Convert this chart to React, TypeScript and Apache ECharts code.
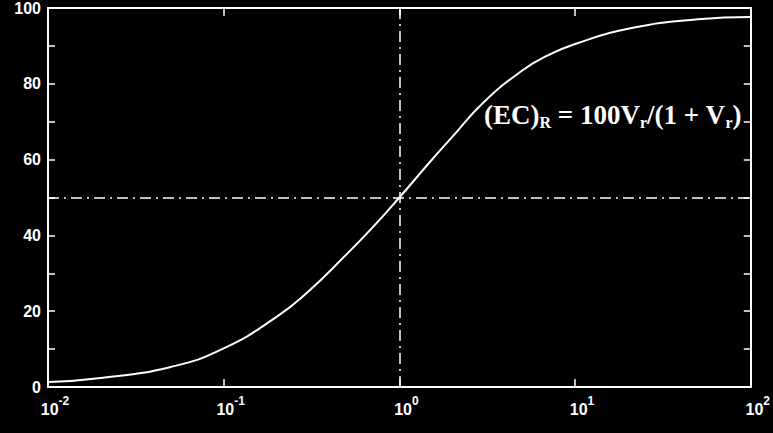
import React, { useEffect, useRef } from "react";
import * as echarts from "echarts";

// Relative volume V_r (log scale) and the curve values (EC)_R
const vrValues = [0.01, 0.02, 0.05, 0.1, 0.2, 0.3, 0.5, 0.7, 1, 1.5, 2, 3, 5, 7, 10, 20, 50, 100];
const ecValues = [1.3, 2.4, 5.3, 10.2, 18.5, 25, 35, 42, 50, 59.5, 66, 75, 83.5, 87.5, 90.5, 94.5, 97, 97.6];
const yTickLabels = [0, 20, 40, 60, 80, 100];
const refVr = 1;
const refEc = 50;

export default function App() {
  const ref = useRef<HTMLDivElement>(null);
  useEffect(() => {
    const chart = echarts.init(ref.current!, null, { renderer: "svg" });
    const white = "#ffffff";
    const frameLine = { show: true, onZero: false, lineStyle: { color: white, width: 2 } };
    const xLabelRich = {
      b: { color: white, fontSize: 16, fontFamily: "Liberation Sans", fontWeight: "bold", padding: [0, 0, 0, 14], lineHeight: 22, verticalAlign: "bottom" },
      s: { color: white, fontSize: 12, fontFamily: "Liberation Sans", fontWeight: "bold", lineHeight: 22, verticalAlign: "top" },
    };
    const textFont = "Liberation Serif";
    chart.setOption({
      animation: false,
      backgroundColor: "#000000",
      grid: { left: 48, right: 20, top: 5, bottom: 46, containLabel: false },
      xAxis: [
        {
          type: "log",
          logBase: 10,
          min: 0.01,
          max: 100,
          position: "bottom",
          axisLine: frameLine,
          axisTick: { show: true, inside: true, length: 8, lineStyle: { color: white, width: 1.5 } },
          minorTick: { show: false },
          splitLine: { show: false },
          axisLabel: {
            margin: 8,
            formatter: (v: number) => `{b|10}{s|${Math.round(Math.log10(v))}}`,
            rich: xLabelRich,
          },
        },
        {
          type: "log",
          logBase: 10,
          min: 0.01,
          max: 100,
          position: "top",
          axisLine: frameLine,
          axisTick: { show: true, inside: true, length: 8, lineStyle: { color: white, width: 1.5 } },
          splitLine: { show: false },
          axisLabel: { show: false },
        },
      ],
      yAxis: [
        {
          type: "value",
          min: yTickLabels[0],
          max: yTickLabels[yTickLabels.length - 1],
          interval: 20,
          position: "left",
          axisLine: frameLine,
          axisTick: { show: true, inside: true, length: 7, lineStyle: { color: white, width: 1.5 } },
          minorTick: { show: true, splitNumber: 2, length: 7, lineStyle: { color: white, width: 1.5 } },
          splitLine: { show: false },
          axisLabel: {
            margin: 7,
            color: white,
            fontSize: 16,
            fontFamily: "Liberation Sans",
            fontWeight: "bold",
          },
        },
        {
          type: "value",
          min: yTickLabels[0],
          max: yTickLabels[yTickLabels.length - 1],
          interval: 20,
          position: "right",
          axisLine: frameLine,
          axisTick: { show: true, inside: true, length: 7, lineStyle: { color: white, width: 1.5 } },
          minorTick: { show: true, splitNumber: 2, length: 7, lineStyle: { color: white, width: 1.5 } },
          splitLine: { show: false },
          axisLabel: { show: false },
        },
      ],
      series: [
        {
          type: "line",
          xAxisIndex: 0,
          yAxisIndex: 0,
          data: vrValues.map((v, i) => [v, ecValues[i]]),
          smooth: 0.5,
          showSymbol: false,
          lineStyle: { color: white, width: 2 },
          markLine: {
            silent: true,
            symbol: "none",
            label: { show: false },
            lineStyle: { color: white, width: 1.5, type: [11, 5, 2, 5] },
            data: [{ xAxis: refVr }, { yAxis: refEc }],
          },
        },
      ],
      graphic: [
        {
          type: "text",
          x: 484,
          y: 115,
          style: {
            text: "{m|(EC)}{s|R}{m| = 100V}{s|r}{m|/(1 + V}{s|r}{m|)}",
            fill: white,
            verticalAlign: "middle",
            rich: {
              m: { fill: white, fontSize: 27, fontFamily: textFont, fontWeight: "bold", lineHeight: 31, verticalAlign: "middle" },
              s: { fill: white, fontSize: 16, fontFamily: textFont, fontWeight: "bold", lineHeight: 31, verticalAlign: "bottom" },
            },
          },
        },
      ],
    });
    return () => chart.dispose();
  }, []);
  return (
    <div
      ref={ref}
      style={{ position: "fixed", left: 0, top: 0, width: 773, height: 433, background: "#000" }}
    />
  );
}
